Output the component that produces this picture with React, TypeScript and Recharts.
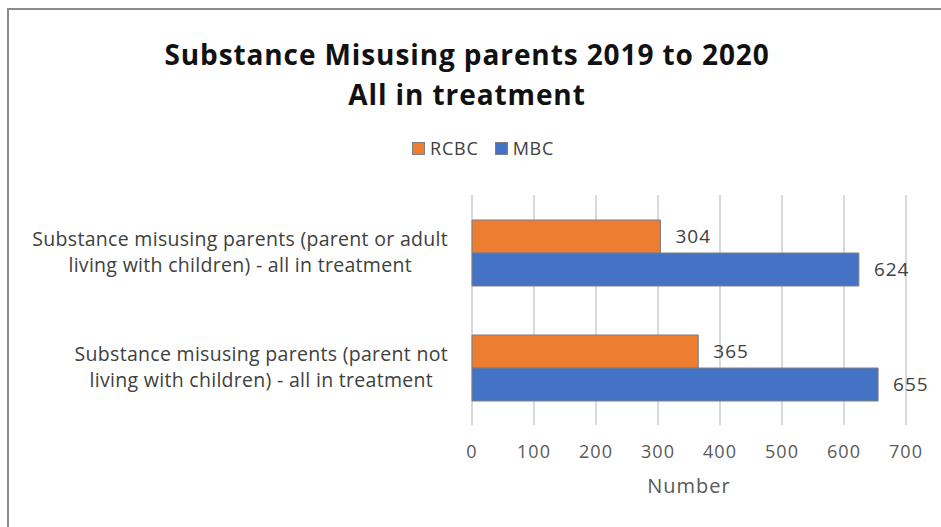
import React from 'react';
import { BarChart, Bar, XAxis, YAxis, CartesianGrid, LabelList } from 'recharts';

const categoryLines = [
  ['Substance misusing parents (parent or adult', 'living with children) - all in treatment'],
  ['Substance misusing parents (parent not', 'living with children) - all in treatment'],
];
const rcbcValues = [304, 365];
const mbcValues = [624, 655];
const xTicks = [0, 100, 200, 300, 400, 500, 600, 700];
const series = [
  { key: 'RCBC', color: '#ED7D31' },
  { key: 'MBC', color: '#4472C4' },
];

const data = categoryLines.map((lines, i) => ({
  name: lines.join(' '),
  RCBC: rcbcValues[i],
  MBC: mbcValues[i],
}));

const LABEL_FONT = '19.5px "Open Sans"';
let measureCtx: CanvasRenderingContext2D | null = null;
const textWidth = (s: string) => {
  if (!measureCtx) measureCtx = document.createElement('canvas').getContext('2d');
  if (!measureCtx) return s.length * 9;
  measureCtx.font = LABEL_FONT;
  return measureCtx.measureText(s).width + s.length * 0.3;
};

const CategoryTick = (props: any) => {
  const { x, y, payload } = props;
  const lines = categoryLines[payload.index] || [payload.value];
  const widest = Math.max(...lines.map(textWidth));
  const cx = x - 16 - widest / 2;
  return (
    <g>
      {lines.map((ln, i) => (
        <text key={i} x={cx} y={y + (i - (lines.length - 1) / 2) * 26} dy="0.35em"
          textAnchor="middle" fill="#404040" style={{ font: LABEL_FONT, letterSpacing: 0.3 }}>
          {ln}
        </text>
      ))}
    </g>
  );
};

const NumberTick = (props: any) => {
  const { x, y, payload } = props;
  return (
    <text x={x} y={y + 19} dy="0.35em" textAnchor="middle" fill="#595959"
      style={{ font: '18px "Open Sans"', letterSpacing: 1 }}>
      {payload.value}
    </text>
  );
};

export default function App() {
  return (
    <div style={{ position: 'absolute', left: 0, top: 0, width: 941, height: 527, background: '#fff', overflow: 'hidden' }}>
      <div style={{ position: 'absolute', left: 7, top: 8, right: -10, bottom: -10, borderLeft: '2px solid #8c8c8c', borderTop: '2px solid #8c8c8c' }} />
      <div style={{ position: 'absolute', left: 0, width: 934, top: 34, textAlign: 'center', fontFamily: '"Open Sans"', fontWeight: 700, fontSize: 28, letterSpacing: 0.9, lineHeight: '40px', color: '#111' }}>
        Substance Misusing parents 2019 to 2020<br />All in treatment
      </div>
      <div style={{ position: 'absolute', left: 412, top: 136, display: 'flex', alignItems: 'center', fontFamily: '"Open Sans"', fontSize: 18, letterSpacing: 0.8, color: '#404040' }}>
        {series.map((s) => (
          <div key={s.key} style={{ display: 'flex', alignItems: 'center', marginRight: 16 }}>
            <span style={{ display: 'inline-block', width: 11, height: 11, background: s.color, border: '1px solid #7f7f7f', marginRight: 5 }} />
            {s.key}
          </div>
        ))}
      </div>
      <div style={{ position: 'absolute', left: 0, top: 0 }}>
        <BarChart width={941} height={527} data={data} layout="vertical" barGap={0}
          margin={{ top: 195, right: 35, bottom: 42, left: 0 }}>
          <CartesianGrid horizontal={false} stroke="#d9d9d9" strokeWidth={2} />
          <XAxis type="number" domain={[0, 700]} ticks={xTicks} height={60}
            axisLine={false} tickLine={false} tick={<NumberTick />}
            label={{ value: 'Number', position: 'insideBottom', offset: -8, fill: '#595959', style: { font: '20px "Open Sans"', letterSpacing: 1 } }} />
          <YAxis type="category" dataKey="name" width={472} axisLine={false} tickLine={false} tick={<CategoryTick />} />
          {series.map((s) => (
            <Bar key={s.key} dataKey={s.key} fill={s.color} stroke="#7f7f7f" strokeWidth={1} barSize={33} isAnimationActive={false}>
              <LabelList dataKey={s.key} position="right" offset={15} fill="#404040" style={{ font: '19px "Open Sans"', letterSpacing: 1 }} />
            </Bar>
          ))}
        </BarChart>
      </div>
    </div>
  );
}
